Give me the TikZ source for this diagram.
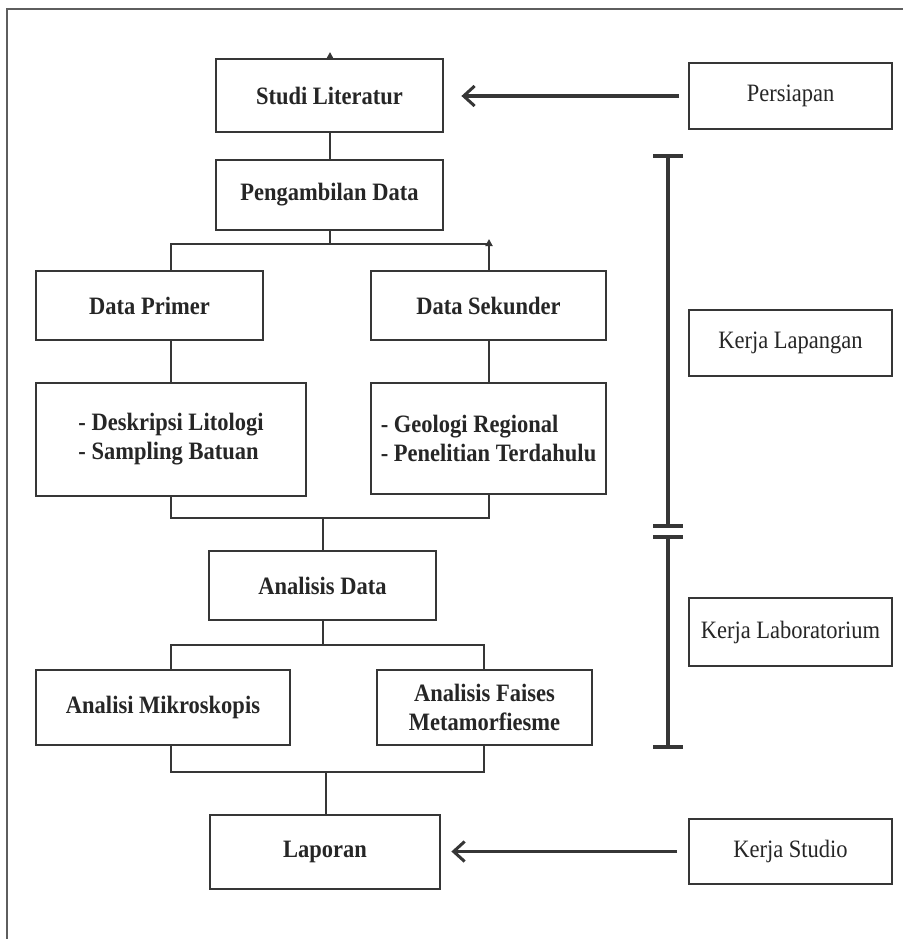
\documentclass[tikz,border=0pt]{standalone}
\usepackage{fontspec}
\setmainfont{Liberation Serif}[FakeStretch=0.9]
\usetikzlibrary{arrows.meta}
\definecolor{ink}{HTML}{363636}
\definecolor{txt}{HTML}{262626}
\tikzset{
  flowbox/.style={draw=ink, line width=2.8pt, rectangle, inner sep=0pt, align=center,
    font=\fontsize{25}{29}\selectfont\bfseries, text=txt},
  sidebox/.style={draw=ink, line width=1.8pt, rectangle, inner sep=0pt, align=center,
    minimum width=203pt, font=\fontsize{25}{29}\selectfont, text=txt},
  conn/.style={draw=ink, line width=2.8pt},
  bigarrow/.style={draw=ink, line width=3.2pt, -{Straight Barb[length=11pt,width=20pt,line width=3pt]}},
  tinyarrow/.style={draw=ink, line width=2.8pt, -{Triangle[length=7pt,width=7pt]}},
  bar/.style={draw=ink, line width=3.6pt},
}
\begin{document}
\begin{tikzpicture}[x=1pt,y=-1pt]
\useasboundingbox (0,0) rectangle (903,939);
\fill[white] (0,0) rectangle (903,939);
% frame
\draw[draw=ink!80, line width=2pt] (7,939) -- (7,9) -- (903,9);

% main flow boxes
\node[flowbox, minimum width=227pt, minimum height=73pt] (lit) at (329.5,95.5) {Studi Literatur};
\node[flowbox, minimum width=227pt, minimum height=70pt] (peng) at (329.5,195) {Pengambilan Data};
\node[flowbox, minimum width=227pt, minimum height=69pt] (prim) at (149.5,305.5) {Data Primer};
\node[flowbox, minimum width=235pt, minimum height=69pt] (sek) at (488.5,305.5) {Data Sekunder};
\node[flowbox, minimum width=270pt, minimum height=113pt, align=left] (dp) at (171,439.5) {- Deskripsi Litologi\\- Sampling Batuan};
\node[flowbox, minimum width=235pt, minimum height=111pt, align=left] (ds) at (488.5,438.5) {- Geologi Regional\\- Penelitian Terdahulu};
\node[flowbox, minimum width=227pt, minimum height=69pt] (anal) at (322.5,585.5) {Analisis Data};
\node[flowbox, minimum width=254pt, minimum height=75pt] (mik) at (163,707.5) {Analisi Mikroskopis};
\node[flowbox, minimum width=215pt, minimum height=75pt] (fai) at (484.5,707.5) {Analisis Faises\\Metamorfiesme};
\node[flowbox, minimum width=230pt, minimum height=74pt] (lap) at (325,852) {Laporan};

% side boxes
\node[sidebox, minimum height=66pt] (pers) at (790.5,96) {Persiapan};
\node[sidebox, minimum height=66pt] (klap) at (790.5,343) {Kerja Lapangan};
\node[sidebox, minimum height=68pt] (klab) at (790.5,632) {Kerja Laboratorium};
\node[sidebox, minimum height=65pt] (kstu) at (790.5,851.5) {Kerja Studio};

% coordinates
\coordinate (s1) at (330,244);
\coordinate (s1l) at (171,244);
\coordinate (s1r) at (489,239);
\coordinate (m1) at (323,518);
\coordinate (m1l) at (171,518);
\coordinate (m1r) at (489,518);
\coordinate (s2) at (323,645);
\coordinate (s2l) at (171,645);
\coordinate (s2r) at (484,645);
\coordinate (m2) at (326,772);
\coordinate (m2l) at (171,772);
\coordinate (m2r) at (484,772);
\coordinate (littip) at (330,52);

% connectors
\draw[tinyarrow] (lit.north -| littip) -- (littip);
\draw[conn] (lit.south -| s1) -- (peng.north -| s1);
\draw[conn] (peng.south -| s1) -- (s1);
\draw[conn] (prim.north -| s1l) -- (s1l) -- (s1 -| s1r);
\draw[tinyarrow] (sek.north -| s1r) -- (s1r);
\draw[conn] (prim.south -| s1l) -- (dp.north -| s1l);
\draw[conn] (sek.south -| s1r) -- (ds.north -| s1r);
\draw[conn] (dp.south -| m1l) -- (m1l) -- (m1r) -- (ds.south -| m1r);
\draw[conn] (m1) -- (anal.north -| m1);
\draw[conn] (anal.south -| s2) -- (s2);
\draw[conn] (mik.north -| s2l) -- (s2l) -- (s2r) -- (fai.north -| s2r);
\draw[conn] (mik.south -| m2l) -- (m2l) -- (m2r) -- (fai.south -| m2r);
\draw[conn] (m2) -- (lap.north -| m2);

% side arrows
\draw[bigarrow] ([xshift=-9pt]pers.west) -- ([xshift=17pt]lit.east |- pers.west);
\draw[bigarrow] ([xshift=-11pt]kstu.west) -- ([xshift=10pt]lap.east |- kstu.west);

% phase bar
\draw[bar] (668,156) -- (668,526);
\draw[bar] (653,156) -- (683,156);
\draw[bar] (653,526) -- (683,526);
\draw[bar] (668,537) -- (668,747);
\draw[bar] (653,537) -- (683,537);
\draw[bar] (653,747) -- (683,747);
\end{tikzpicture}
\end{document}
